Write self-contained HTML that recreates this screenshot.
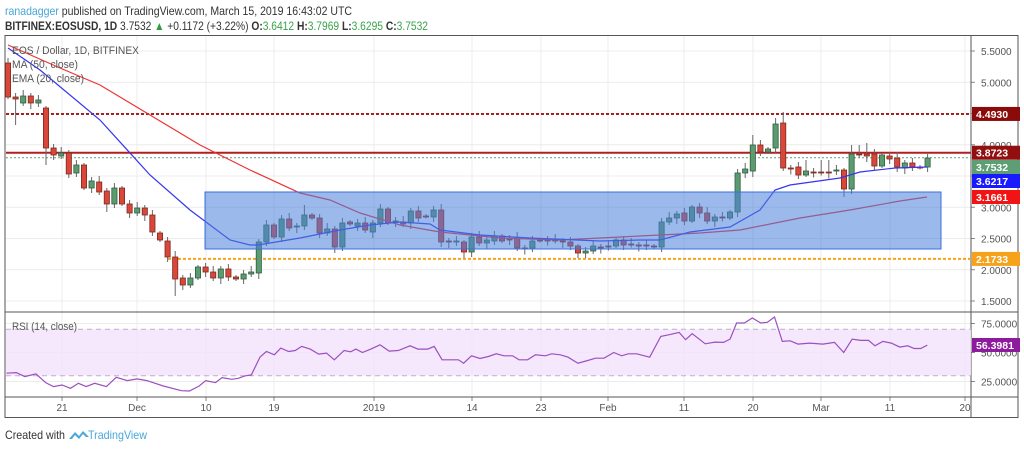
<!DOCTYPE html>
<html><head><meta charset="utf-8"><style>
html,body{margin:0;padding:0;background:#fff;width:1024px;height:449px;overflow:hidden}
svg{display:block;font-family:"Liberation Sans",sans-serif}
</style></head><body>
<svg id="s" width="1024" height="449" viewBox="0 0 1024 449" xmlns="http://www.w3.org/2000/svg">
<text x="5" y="15" font-size="12" fill="#333" textLength="347" lengthAdjust="spacingAndGlyphs"><tspan fill="#47a5d8">ranadagger</tspan> published on TradingView.com, March 15, 2019 16:43:02 UTC</text>
<text x="5" y="30" font-size="12" fill="#333" textLength="423" lengthAdjust="spacingAndGlyphs"><tspan font-weight="bold">BITFINEX:EOSUSD, 1D</tspan> 3.7532 <tspan fill="#2e9d3d">▲</tspan> +0.1172 (+3.22%) <tspan font-weight="bold">O:</tspan><tspan fill="#3aa34a">3.6412</tspan> <tspan font-weight="bold">H:</tspan><tspan fill="#3aa34a">3.7969</tspan> <tspan font-weight="bold">L:</tspan><tspan fill="#3aa34a">3.6295</tspan> <tspan font-weight="bold">C:</tspan><tspan fill="#3aa34a">3.7532</tspan></text>
<g id="grid"></g>
<rect x="5" y="35.5" width="1013" height="382" fill="none" stroke="#555" stroke-width="1"/>
<line x1="971" y1="35" x2="971" y2="418" stroke="#555"/>
<line x1="5" y1="312" x2="1018" y2="312" stroke="#555"/>
<line x1="5" y1="397" x2="1018" y2="397" stroke="#555"/>
<g id="main"></g>
<text x="12" y="54" font-size="11" fill="#555" textLength="127" lengthAdjust="spacingAndGlyphs">EOS / Dollar, 1D, BITFINEX</text>
<text x="12" y="68" font-size="11" fill="#555" textLength="66" lengthAdjust="spacingAndGlyphs">MA (50, close)</text>
<text x="12" y="82" font-size="11" fill="#555" textLength="72" lengthAdjust="spacingAndGlyphs">EMA (20, close)</text>
<text x="12" y="330" font-size="11" fill="#555" textLength="65" lengthAdjust="spacingAndGlyphs">RSI (14, close)</text>
<g id="tags"></g>
<text x="5" y="439" font-size="12" fill="#333" textLength="60" lengthAdjust="spacingAndGlyphs">Created with</text>
<path d="M69 439 l6 -7 l4 4 l4 -5 l6 6 l-3 0 l-3 -3 l-4 5 l-4 -4 l-3 4z" fill="#4aa8d8"/>
<text x="88" y="439" font-size="12" fill="#4aa8d8" textLength="59" lengthAdjust="spacingAndGlyphs">TradingView</text>
</svg>
<script>
const NS="http://www.w3.org/2000/svg";
function el(p,t,a,txt){const e=document.createElementNS(NS,t);for(const k in a)e.setAttribute(k,a[k]);if(txt!==undefined)e.textContent=txt;document.getElementById(p).appendChild(e);return e;}
const py=p=>51+(5.5-p)*62.5;
const vx=[62,137,206,274,374,472,541,608,684,753,821,890,965];
const vl=["21","Dec","10","19","2019","14","23","Feb","11","20","Mar","11","20"];
vx.forEach((x,i)=>{el("grid","line",{x1:x,y1:36,x2:x,y2:397,stroke:"#ececec"});
el("grid","text",{x:x,y:411,"font-size":10,fill:"#555","text-anchor":"middle"},vl[i]);
el("grid","line",{x1:x,y1:397,x2:x,y2:401,stroke:"#888"});});
[5.5,5,4.5,4,3.5,3,2.5,2,1.5].forEach(p=>{const y=py(p);el("grid","line",{x1:6,y1:y,x2:971,y2:y,stroke:"#ececec"});
el("grid","line",{x1:971,y1:y,x2:975,y2:y,stroke:"#888"});
el("grid","text",{x:981,y:y+4,"font-size":10,fill:"#555"},p.toFixed(4));});
const ry=v=>352.5-(v-50)*1.16;
[75,50,25].forEach(v=>{const y=ry(v);el("grid","line",{x1:6,y1:y,x2:971,y2:y,stroke:"#ececec"});el("grid","line",{x1:971,y1:y,x2:975,y2:y,stroke:"#888"});
el("grid","text",{x:981,y:y+4,"font-size":10,fill:"#555"},v.toFixed(4));});
el("main","rect",{x:6,y:ry(70),width:965,height:ry(30)-ry(70),fill:"#f3e3fc",opacity:0.85});
el("main","line",{x1:6,y1:ry(70),x2:971,y2:ry(70),stroke:"#c0b0cc","stroke-dasharray":"5,4"});
el("main","line",{x1:6,y1:ry(30),x2:971,y2:ry(30),stroke:"#c0b0cc","stroke-dasharray":"5,4"});
const rz=[[10,190],[25,188],[38,200],[55,192],[70,218],[82,230],[95,225],[108,235],[120,220],[132,230],[145,220],[163,230],[178,202],[195,212],[210,207],[225,212],[250,228],[278,242],[290,243],[305,228],[315,212],[330,218],[340,203],[355,208],[365,205],[375,198],[385,195],[398,142],[408,125],[420,135],[430,115],[442,125],[452,122],[462,110],[475,118],[488,133],[500,130],[512,150],[527,122],[537,126],[545,118],[555,128],[568,118],[582,105],[596,124],[610,122],[628,108],[640,118],[655,118],[665,110],[677,150],[690,150],[702,150],[710,160],[722,138],[735,146],[748,140],[760,132],[772,138],[785,138],[795,150],[808,150],[820,135],[835,138],[845,132],[858,135],[870,142],[885,160],[900,152],[912,145],[925,145],[940,128],[952,138],[962,132],[975,132],[995,142],[1012,80],[1025,75],[1040,68],[1050,90],[1060,72],[1080,102],[1095,97],[1108,98],[1118,88],[1128,40],[1140,40],[1152,25],[1165,40],[1175,38],[1186,22],[1198,95],[1210,93],[1222,103],[1240,100],[1260,103],[1278,98],[1292,128],[1305,88],[1318,92],[1330,92],[1340,108],[1352,95],[1365,100],[1378,112],[1390,108],[1400,116],[1410,116],[1420,106]];
el("main","polyline",{points:rz.map(p=>(p[0]*0.653).toFixed(1)+","+(324+(p[1]-43)*0.335).toFixed(1)).join(" "),fill:"none",stroke:"#9c4fc0","stroke-width":1.2});
el("main","line",{x1:6,y1:py(4.493),x2:971,y2:py(4.493),stroke:"#a82020","stroke-width":2,"stroke-dasharray":"3,2"});
el("main","line",{x1:6,y1:py(3.8723),x2:971,y2:py(3.8723),stroke:"#b02020","stroke-width":2});
el("main","line",{x1:6,y1:157.8,x2:971,y2:157.8,stroke:"#5e9e74","stroke-width":1,"stroke-dasharray":"2,2"});
el("main","line",{x1:168,y1:py(2.1733),x2:971,y2:py(2.1733),stroke:"#f7a21b","stroke-width":2,"stroke-dasharray":"3,2"});
const C=[[63,97],[97,99],[103,96],[96,103],[103,100],[108,148],[148,155],[156,153],[153,174],[173,165],[165,188],[188,181],[182,192],[191,204],[204,188],[188,204],[204,213],[213,208],[208,215],[215,232],[233,240],[241,257],[257,279],[278,285],[285,278],[278,267],[267,272],[272,278],[278,269],[269,277],[277,279],[279,274],[274,272],[273,242],[242,225],[225,237],[237,219],[219,228],[227,226],[226,215],[215,218],[218,233],[233,229],[229,247],[247,223],[222,224],[226,223],[223,230],[232,223],[223,209],[209,223],[222,221],[222,224],[223,211],[211,218],[216,216.5],[217,210],[210,242],[241,242],[242,241],[242,252],[252,237],[237,243],[243,240],[241,236],[236,241],[239,240],[238,248],[248,248.5],[248,241],[240,240.5],[240,240.5],[240,240.5],[241,242],[242,246],[246,253],[253,251],[251,246],[247,247.5],[246,246.5],[246,240],[240,245],[244,244.5],[245,245.5],[245,246],[246,246.5],[247,222],[222,218],[218,214],[213,221],[221,207],[207,213],[213,221],[221,217],[217,217.5],[218,212],[212,173],[173,169],[171,145],[145,152],[152,149],[148,124],[123,168],[168,168.5],[167,175],[175,171],[172,172.5],[172,172.5],[172,172.5],[171,170],[170,189],[189,154],[154,154.5],[154,156],[154,166],[166,155],[156,159],[158,167],[168,163],[163,167],[167,167.5],[167,158]];
const HI={0:58,101:118,102:112,111:145,112:145,113:143,19:210,39:205,98:135,105:160,107:160,108:160};
const LO={1:125,5:165,8:178,13:212,22:296,23:290,110:197,57:247,60:258,75:258,24:288,97:178,117:172,118:174};
C.forEach((c,i)=>{const x=8+7.6*i;const o=c[0],cl=c[1];const up=cl<o;
const t=Math.min(o,cl),b=Math.max(o,cl);
const h=HI[i]!==undefined?HI[i]:t-2-(i*7%5);const l=LO[i]!==undefined?LO[i]:b+2+(i*3%5);
el("main","line",{x1:x,y1:h,x2:x,y2:l,stroke:"#666","stroke-width":1});
el("main","rect",{x:x-2.6,y:t,width:5.2,height:Math.max(b-t,1),fill:up?"#5b9b70":"#d9473a",stroke:up?"#2f5e3e":"#7e2a20","stroke-width":0.8});});
const ma=[[8,45],[60,68],[100,85],[150,115],[200,145],[250,170],[300,193],[330,200],[360,213],[400,225],[440,232],[500,238],[560,240],[620,237],[700,233],[740,230],[800,218],[850,210],[900,201],[927,197]];
el("main","polyline",{points:ma.map(p=>p.join(",")).join(" "),fill:"none",stroke:"#ee3333","stroke-width":1.2});
const ema=[[8,48],[40,70],[100,120],[150,175],[190,210],[230,240],[250,245],[258,245],[270,243],[300,238],[340,230],[370,225],[400,222],[430,224],[440,230],[480,235],[530,238],[600,241],[640,240],[660,240],[690,232],[730,227],[760,210],[775,190],[790,185],[840,178],[860,172],[895,168],[927,167]];
el("main","polyline",{points:ema.map(p=>p.join(",")).join(" "),fill:"none",stroke:"#3535ee","stroke-width":1.2});
el("main","rect",{x:205,y:192,width:736,height:57,fill:"#4a7fdb","fill-opacity":0.55,stroke:"#3a6fe0","stroke-width":1});
function tag(y,txt,bg){el("tags","rect",{x:972,y:y-7,width:48,height:14,fill:bg});el("tags","text",{x:976,y:y+4,"font-size":10.5,fill:"#fff","font-weight":"bold"},txt);}
tag(py(4.493),"4.4930","#8b0a0a");tag(py(3.8723),"3.8723","#920f0f");tag(167,"3.7532","#5e9e74");tag(181,"3.6217","#1a1aff");tag(197,"3.1661","#f21414");tag(py(2.1733),"2.1733","#f7a21b");tag(345,"56.3981","#8e1a9e");
</script>
</body></html>
